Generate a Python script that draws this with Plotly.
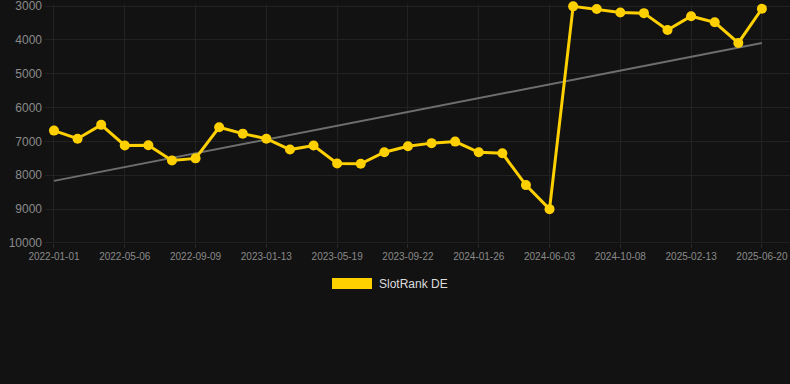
import numpy as np
import plotly.graph_objects as go

dates = [
    "2022-01-01", "2022-02-12", "2022-03-26", "2022-05-06", "2022-06-17", "2022-07-29",
    "2022-09-09", "2022-10-21", "2022-12-02", "2023-01-13", "2023-02-24", "2023-04-07",
    "2023-05-19", "2023-06-30", "2023-08-11", "2023-09-22", "2023-11-03", "2023-12-15",
    "2024-01-26", "2024-03-08", "2024-04-21", "2024-06-03", "2024-07-16", "2024-08-27",
    "2024-10-08", "2024-11-19", "2025-01-01", "2025-02-13", "2025-03-28", "2025-05-09",
    "2025-06-20",
]
rank_de = [
    6680, 6920, 6510, 7120, 7110, 7565, 7500, 6580, 6770, 6920,
    7240, 7120, 7650, 7660, 7320, 7140, 7050, 7005, 7320, 7350,
    8290, 9000, 3010, 3090, 3190, 3210, 3710, 3300, 3480, 4090,
    3080,
]
tick_labels = [
    "2022-01-01", "2022-05-06", "2022-09-09", "2023-01-13", "2023-05-19", "2023-09-22",
    "2024-01-26", "2024-06-03", "2024-10-08", "2025-02-13", "2025-06-20",
]
y_ticks = [3000, 4000, 5000, 6000, 7000, 8000, 9000, 10000]
series_name = "SlotRank DE"

idx = np.arange(len(rank_de))
slope, intercept = np.polyfit(idx, np.array(rank_de, dtype=float), 1)
trend = [intercept + slope * i for i in (idx[0], idx[-1])]

YELLOW = "#FFD000"
BG = "#121212"
fig = go.Figure()
fig.add_trace(go.Scatter(
    x=[dates[0], dates[-1]], y=trend, mode="lines",
    line=dict(color="#6e6e6e", width=2), hoverinfo="skip", showlegend=False,
))
fig.add_trace(go.Scatter(
    x=dates, y=rank_de, mode="lines+markers", name=series_name,
    line=dict(color=YELLOW, width=3),
    marker=dict(color=YELLOW, size=10),
    cliponaxis=False, showlegend=False,
))

font_family = "Liberation Sans, Arial, sans-serif"
T, B, L = 4, 141, 45
PH = 384 - T - B
PW = 790 - L
fig.update_layout(
    width=790, height=384,
    margin=dict(l=L, r=0, t=T, b=B),
    paper_bgcolor=BG, plot_bgcolor=BG,
    font=dict(family=font_family, color="#8a8a8a", size=11),
    showlegend=False,
)
fig.update_xaxes(
    type="category", categoryorder="array", categoryarray=dates,
    range=[-0.38, 31.19],
    tickvals=tick_labels, ticktext=tick_labels,
    showgrid=True, gridcolor="#222222", gridwidth=1,
    zeroline=False, showline=False,
    ticks="outside", ticklen=4, tickcolor="#2a2a2a",
    tickfont=dict(size=10, color="#8a8a8a"),
)
fig.update_yaxes(
    range=[10000, 2940], tickvals=y_ticks, ticktext=[str(v) for v in y_ticks],
    showgrid=True, gridcolor="#222222", gridwidth=1,
    zeroline=False, showline=False, ticklabeloverflow="allow",
    tickfont=dict(size=12, color="#8a8a8a"), ticklabelstandoff=2,
)
# bottom axis line
fig.add_shape(type="line", xref="paper", yref="y", x0=0, x1=1, y0=10000, y1=10000,
              line=dict(color="#2c2c2c", width=1), layer="below")
# custom legend
fig.add_shape(type="rect", xref="paper", yref="paper",
              x0=(332 - L) / PW, x1=(372 - L) / PW,
              y0=(384 - B - 289) / PH, y1=(384 - B - 278) / PH,
              fillcolor=YELLOW, line=dict(width=0))
fig.add_annotation(xref="paper", yref="paper", x=(377 - L) / PW, y=(384 - B - 284) / PH,
                   text=series_name, showarrow=False, xanchor="left", yanchor="middle",
                   font=dict(size=12, color="#dddddd", family=font_family))

fig.write_html(
    "out.html",
    config={"displayModeBar": False},
    post_script="document.body.style.margin='0';document.body.style.background='%s';" % BG,
)
